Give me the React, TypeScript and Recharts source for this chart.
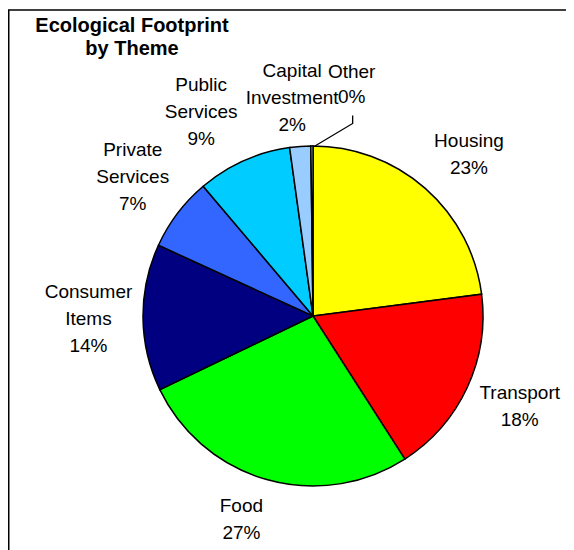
import React from 'react';
import { PieChart, Pie, Cell } from 'recharts';

const categories = [
  'Housing',
  'Transport',
  'Food',
  'Consumer Items',
  'Private Services',
  'Public Services',
  'Capital Investment',
  'Other',
];
const labelLines = [
  ['Housing'],
  ['Transport'],
  ['Food'],
  ['Consumer', 'Items'],
  ['Private', 'Services'],
  ['Public', 'Services'],
  ['Capital', 'Investment'],
  ['Other'],
];
const values = [23, 18, 27, 14, 7, 9, 2, 0.2];
const colors = ['#FFFF00', '#FF0000', '#00FF00', '#000080', '#3366FF', '#00CCFF', '#99CCFF', '#CCFFFF'];
const titleLines = ['Ecological Footprint', 'by Theme'];

const data = categories.map((name, i) => ({ name, value: values[i] }));

// label placement style tweaks (Excel-like fit adjustments)
const labelNudge: [number, number][] = [
  [9, -4],
  [-4, 0],
  [-15, -1],
  [3, 0],
  [1, -4],
  [-19, 0],
  [-3, 5],
  [-2, 0],
];

const FONT = 'Liberation Sans, Arial, sans-serif';
const FS = 19;
const LH = 27;
const GAP = 18;
const RAD = Math.PI / 180;

function renderLabel(props: any) {
  const { cx, cy, midAngle, outerRadius, percent, index } = props;
  const lines = [...labelLines[index], `${Math.round(percent * 100)}%`];
  const sx = Math.cos(midAngle * RAD);
  const sy = -Math.sin(midAngle * RAD);
  const n = lines.length;
  const w = Math.max(...lines.map((l) => l.length)) * FS * 0.52;
  const h = (n - 1) * LH + FS;
  const px = cx + (outerRadius + GAP) * sx;
  const py = cy + (outerRadius + GAP) * sy;
  let lx = px + (w / 2) * sx + labelNudge[index][0];
  let ly = py + (h / 2) * sy + labelNudge[index][1];
  const tiny = percent < 0.01;
  const lh = tiny ? 25 : LH;
  let leader: React.ReactNode = null;
  if (tiny) {
    lx += 42;
    ly -= 22;
    const ex = cx + outerRadius * sx + 3;
    const ey = cy + outerRadius * sy;
    const lastBase = ly - ((n - 1) * lh) / 2 + (n - 1) * lh + 7;
    leader = (
      <polyline
        points={`${ex},${ey} ${lx + 1},${lastBase + 21} ${lx + 1},${lastBase + 13}`}
        fill="none"
        stroke="#000"
        strokeWidth={1.3}
      />
    );
  }
  return (
    <g key={`lbl-${index}`}>
      {leader}
      <text x={lx} textAnchor="middle" fontFamily={FONT} fontSize={FS} fill="#000">
        {lines.map((l, i) => (
          <tspan key={i} x={lx} y={ly - ((n - 1) * lh) / 2 + i * lh + 7}>
            {l}
          </tspan>
        ))}
      </text>
    </g>
  );
}

export default function App() {
  return (
    <div style={{ position: 'relative', width: 566, height: 542 }}>
      <style>{'body{overflow:hidden}'}</style>
      <svg
        width={566}
        height={542}
        style={{ position: 'absolute', left: 0, top: 0 }}
      >
        <rect x={0.75} y={2} width={700} height={700} fill="#fff" stroke="#000" strokeWidth={1.5} />
        <text textAnchor="middle" fontFamily={FONT} fontSize={20} fontWeight="bold" fill="#000">
          {titleLines.map((t, i) => (
            <tspan key={i} x={124} y={24 + i * 23}>
              {t}
            </tspan>
          ))}
        </text>
      </svg>
      <div style={{ position: 'absolute', left: 0, top: 0 }}>
        <PieChart width={566} height={542}>
          <Pie
            data={data}
            dataKey="value"
            nameKey="name"
            cx={300}
            cy={303}
            outerRadius={170}
            startAngle={90}
            endAngle={-270}
            stroke="#000"
            strokeWidth={1.5}
            label={renderLabel}
            labelLine={false}
            isAnimationActive={false}
          >
            {data.map((d, i) => (
              <Cell key={d.name} fill={colors[i]} />
            ))}
          </Pie>
        </PieChart>
      </div>
    </div>
  );
}
